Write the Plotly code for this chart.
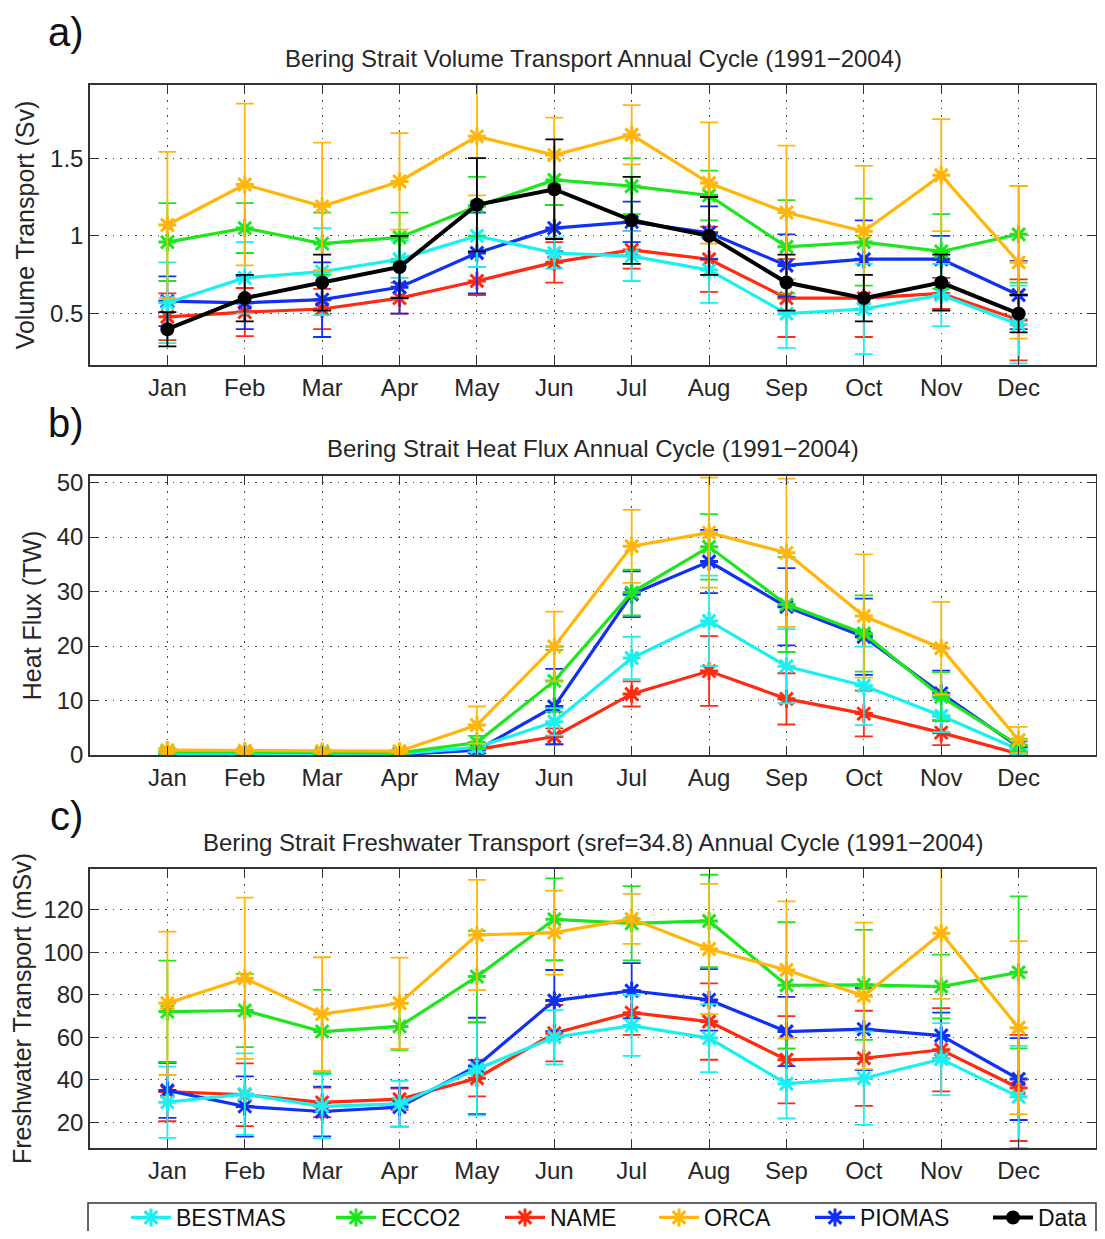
import plotly.graph_objects as go

months = ["Jan", "Feb", "Mar", "Apr", "May", "Jun", "Jul", "Aug", "Sep", "Oct", "Nov", "Dec"]
month_idx = list(range(1, 13))

# ---------------- Panel a: Volume transport (Sv) ----------------
vol_BESTMAS = [0.57, 0.73, 0.77, 0.85, 1.00, 0.89, 0.87, 0.78, 0.50, 0.53, 0.62, 0.43]
vol_BESTMAS_err = [0.26, 0.23, 0.28, 0.12, 0.20, 0.10, 0.16, 0.21, 0.22, 0.29, 0.20, 0.25]
vol_ECCO2 = [0.96, 1.05, 0.95, 0.99, 1.19, 1.36, 1.32, 1.26, 0.93, 0.96, 0.90, 1.01]
vol_ECCO2_err = [0.25, 0.16, 0.20, 0.16, 0.19, 0.16, 0.18, 0.16, 0.30, 0.28, 0.24, 0.31]
vol_NAME = [0.48, 0.51, 0.53, 0.60, 0.71, 0.83, 0.91, 0.85, 0.60, 0.60, 0.63, 0.46]
vol_NAME_err = [0.15, 0.155, 0.13, 0.10, 0.09, 0.13, 0.12, 0.21, 0.25, 0.25, 0.10, 0.26]
vol_ORCA = [1.07, 1.33, 1.19, 1.35, 1.64, 1.52, 1.65, 1.34, 1.15, 1.03, 1.39, 0.83]
vol_ORCA_err = [0.47, 0.52, 0.41, 0.31, 0.38, 0.24, 0.19, 0.39, 0.43, 0.42, 0.36, 0.49]
vol_PIOMAS = [0.58, 0.57, 0.59, 0.67, 0.89, 1.05, 1.09, 1.02, 0.81, 0.85, 0.85, 0.62]
vol_PIOMAS_err = [0.16, 0.17, 0.24, 0.17, 0.26, 0.15, 0.13, 0.17, 0.20, 0.25, 0.15, 0.22]
vol_Data = [0.40, 0.60, 0.70, 0.80, 1.20, 1.30, 1.10, 1.00, 0.70, 0.60, 0.70, 0.50]
vol_Data_err = [0.11, 0.15, 0.18, 0.20, 0.30, 0.32, 0.28, 0.25, 0.18, 0.15, 0.18, 0.12]

# ---------------- Panel b: Heat flux (TW) ----------------
heat_BESTMAS = [0.3, 0.2, 0.2, 0.2, 1.4, 6.1, 17.8, 24.6, 16.3, 12.7, 7.2, 1.0]
heat_BESTMAS_err = [0.2, 0.2, 0.2, 0.2, 0.8, 2.5, 3.9, 8.3, 6.8, 7.2, 3.0, 0.8]
heat_ECCO2 = [0.6, 0.5, 0.4, 0.4, 2.3, 13.6, 29.8, 38.2, 27.6, 22.3, 10.7, 1.8]
heat_ECCO2_err = [0.3, 0.3, 0.3, 0.3, 1.2, 5.7, 4.2, 6.0, 8.7, 7.0, 4.5, 1.2]
heat_NAME = [0.2, 0.2, 0.1, 0.1, 1.0, 3.4, 11.2, 15.4, 10.3, 7.6, 4.1, 0.2]
heat_NAME_err = [0.1, 0.1, 0.1, 0.1, 0.5, 1.5, 2.3, 6.4, 4.7, 4.2, 2.3, 0.3]
heat_ORCA = [0.9, 0.8, 0.7, 0.7, 5.5, 19.9, 38.3, 40.8, 37.1, 25.5, 19.6, 2.75]
heat_ORCA_err = [0.4, 0.4, 0.3, 0.3, 3.4, 6.4, 6.7, 10.1, 13.6, 11.3, 8.5, 2.4]
heat_PIOMAS = [0.1, 0.1, 0.1, 0.1, 0.9, 8.9, 29.5, 35.5, 27.2, 21.7, 11.3, 1.5]
heat_PIOMAS_err = [0.1, 0.1, 0.1, 0.1, 0.6, 6.9, 4.2, 5.8, 7.1, 7.0, 4.2, 1.0]

# ---------------- Panel c: Freshwater transport (mSv) ----------------
fw_BESTMAS = [29.4, 33.2, 27.4, 28.6, 45.0, 60.0, 65.5, 59.6, 38.1, 40.7, 49.7, 31.9]
fw_BESTMAS_err = [16.8, 19.2, 15.0, 10.9, 21.8, 12.8, 14.3, 16.0, 16.4, 22.0, 17.0, 24.0]
fw_ECCO2 = [72.1, 72.6, 62.7, 65.1, 88.6, 115.6, 113.7, 114.8, 84.5, 84.7, 83.9, 90.6]
fw_ECCO2_err = [24.0, 17.3, 19.6, 11.0, 21.5, 19.3, 17.5, 21.8, 29.7, 25.9, 15.0, 35.8]
fw_NAME = [34.4, 32.9, 29.3, 30.8, 40.7, 61.9, 71.6, 67.4, 49.4, 50.1, 54.1, 36.1]
fw_NAME_err = [14.0, 14.8, 7.0, 5.0, 8.6, 13.3, 10.5, 18.0, 20.6, 22.4, 19.6, 25.0]
fw_ORCA = [76.0, 87.8, 70.9, 76.0, 108.2, 109.3, 115.8, 101.6, 91.7, 79.5, 109.0, 64.5]
fw_ORCA_err = [33.8, 38.0, 26.8, 21.5, 26.0, 19.8, 11.8, 30.7, 32.3, 34.5, 30.9, 40.8]
fw_PIOMAS = [34.9, 27.4, 25.0, 27.1, 46.5, 77.3, 81.9, 77.6, 62.7, 63.8, 60.8, 40.3]
fw_PIOMAS_err = [12.9, 14.2, 11.7, 9.2, 22.7, 14.4, 13.0, 14.5, 16.3, 19.3, 10.8, 19.3]

panel_titles = [
    "Bering Strait Volume Transport Annual Cycle (1991\u22122004)",
    "Bering Strait Heat Flux Annual Cycle (1991\u22122004)",
    "Bering Strait Freshwater Transport (sref=34.8) Annual Cycle (1991\u22122004)",
]
panel_letters = ["a)", "b)", "c)"]
y_titles = ["Volume Transport (Sv)", "Heat Flux (TW)", "Freshwater Transport (mSv)"]
y_ticks = [[0.5, 1, 1.5], [0, 10, 20, 30, 40, 50], [20, 40, 60, 80, 100, 120]]
y_ticktext = [["0.5", "1", "1.5"], ["0", "10", "20", "30", "40", "50"],
              ["20", "40", "60", "80", "100", "120"]]
y_ranges = [[0.17, 1.97], [0, 51.2], [7.8, 139.3]]

series_names = ["BESTMAS", "ECCO2", "NAME", "ORCA", "PIOMAS", "Data"]
colors = {
    "BESTMAS": "#19F0F0",
    "ECCO2": "#1EE61E",
    "NAME": "#FF2A10",
    "ORCA": "#FFB50A",
    "PIOMAS": "#1030F5",
    "Data": "#000000",
}

panels = [
    {"NAME": (vol_NAME, vol_NAME_err), "PIOMAS": (vol_PIOMAS, vol_PIOMAS_err),
     "BESTMAS": (vol_BESTMAS, vol_BESTMAS_err), "ECCO2": (vol_ECCO2, vol_ECCO2_err),
     "ORCA": (vol_ORCA, vol_ORCA_err), "Data": (vol_Data, vol_Data_err)},
    {"NAME": (heat_NAME, heat_NAME_err), "PIOMAS": (heat_PIOMAS, heat_PIOMAS_err),
     "BESTMAS": (heat_BESTMAS, heat_BESTMAS_err), "ECCO2": (heat_ECCO2, heat_ECCO2_err),
     "ORCA": (heat_ORCA, heat_ORCA_err)},
    {"NAME": (fw_NAME, fw_NAME_err), "PIOMAS": (fw_PIOMAS, fw_PIOMAS_err),
     "BESTMAS": (fw_BESTMAS, fw_BESTMAS_err), "ECCO2": (fw_ECCO2, fw_ECCO2_err),
     "ORCA": (fw_ORCA, fw_ORCA_err)},
]

# The page body has an 8 px margin, so figure pixels = page pixels - 8.
OFF = 8
W, H = 1105 - 2 * OFF, 1239 - 2 * OFF
px_rows = [(85 - OFF, 365 - OFF), (476 - OFF, 755 - OFF), (869 - OFF, 1148 - OFF)]
x_left, x_right = 90 - OFF, W - 1
legend_top = 1203 - OFF
Hp = legend_top  # plot-area height (t=0, bottom margin below it)
PW = x_right - x_left

# page x where each legend entry's label should begin
legend_text_x = [178, 383, 552, 706, 862, 1040]
LEG_ITEMW = 40
LEG_TEXT_OFF = 52  # offset from legend left edge to label start
LEG_FS = 23

FONT = "Liberation Sans, Arial, Helvetica, sans-serif"
TXT = "#262626"
FS = 24

fig = go.Figure()
for i, series in enumerate(panels):
    ax = "" if i == 0 else str(i + 1)
    for name, (vals, errs) in series.items():
        is_data = name == "Data"
        k = series_names.index(name)
        fig.add_trace(go.Scatter(
            x=month_idx, y=vals, name=name,
            xaxis="x" + ax, yaxis="y" + ax,
            mode="lines+markers",
            line=dict(color=colors[name], width=4 if is_data else 3.2),
            marker=dict(
                symbol="circle" if is_data else "asterisk-open",
                size=14 if is_data else 15,
                color=colors[name],
                line=dict(color=colors[name], width=0 if is_data else 3),
            ),
            error_y=dict(type="data", array=errs, visible=True,
                         color=colors[name], thickness=1.8, width=9),
            showlegend=(i == 0),
            legend="legend" if k == 0 else "legend" + str(k + 1),
        ))

layout = dict(
    width=W, height=H,
    margin=dict(l=x_left, r=W - x_right, t=0, b=H - legend_top, autoexpand=False),
    paper_bgcolor="white", plot_bgcolor="white",
    font=dict(family=FONT, size=FS, color=TXT),
    showlegend=True,
)

for k, tx in enumerate(legend_text_x):
    key = "legend" if k == 0 else "legend" + str(k + 1)
    layout[key] = dict(
        orientation="h",
        x=(tx - LEG_TEXT_OFF - OFF - x_left) / PW, xanchor="left",
        y=(legend_top - (1196 - OFF)) / Hp, yanchor="top",
        borderwidth=0, bgcolor="rgba(0,0,0,0)",
        font=dict(size=LEG_FS, color="#111111"),
        itemwidth=LEG_ITEMW,
    )

# legend frame
layout["shapes"] = [dict(
    type="rect", xref="paper", yref="paper",
    x0=(88 - OFF - x_left) / PW, x1=1.0,
    y0=0, y1=-(H - legend_top + 20) / Hp,
    line=dict(color="#333333", width=1.5), fillcolor="rgba(0,0,0,0)",
    layer="below",
)]

annotations = []
for i in range(3):
    ax = "" if i == 0 else str(i + 1)
    top, bot = px_rows[i]
    dom = [1 - bot / Hp, 1 - top / Hp]
    layout["xaxis" + ax] = dict(
        domain=[0, 1], anchor="y" + ax, range=[0, 13], automargin=False,
        tickmode="array", tickvals=month_idx, ticktext=months,
        ticks="inside", ticklen=9, tickwidth=1.3, tickcolor="#333333",
        showline=True, linecolor="#333333", linewidth=1.5, mirror="ticks",
        showgrid=True, gridcolor="#444444", griddash="1.5px,6px", gridwidth=1,
        zeroline=False, tickfont=dict(size=FS, color=TXT),
    )
    layout["yaxis" + ax] = dict(
        domain=dom, anchor="x" + ax, range=y_ranges[i], automargin=False,
        tickmode="array", tickvals=y_ticks[i], ticktext=y_ticktext[i],
        ticks="inside", ticklen=9, tickwidth=1.3, tickcolor="#333333",
        showline=True, linecolor="#333333", linewidth=1.5, mirror="ticks",
        showgrid=True, gridcolor="#444444", griddash="1.5px,6px", gridwidth=1,
        zeroline=False, tickfont=dict(size=FS, color=TXT),
        title=dict(text=y_titles[i], font=dict(size=FS + 1, color=TXT), standoff=8),
    )
    annotations.append(dict(
        text=panel_titles[i], xref="paper", yref="paper",
        x=0.5, y=1 - (top - 27) / Hp, xanchor="center", yanchor="middle",
        showarrow=False, font=dict(size=FS, color=TXT),
    ))
    annotations.append(dict(
        text=panel_letters[i], xref="paper", yref="paper",
        x=(66 - OFF - x_left) / PW, y=1 - (top - 53) / Hp,
        xanchor="center", yanchor="middle",
        showarrow=False, font=dict(size=40, color="#111111"),
    ))
layout["annotations"] = annotations
fig.update_layout(**layout)

fig.write_html("out.html")
